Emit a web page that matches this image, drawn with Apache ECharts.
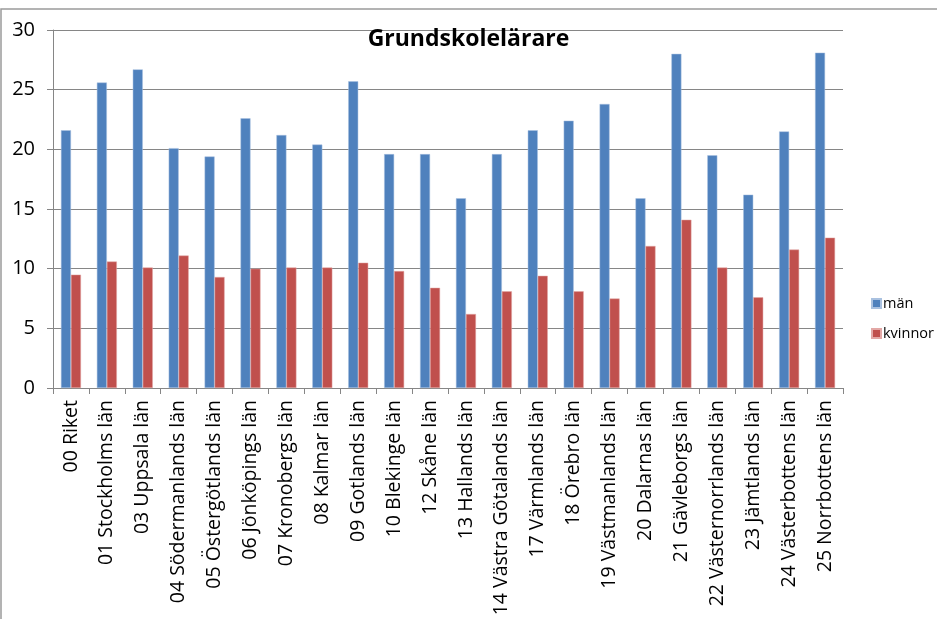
<!DOCTYPE html>
<html>
<head>
<meta charset="utf-8">
<script src="https://cdn.jsdelivr.net/npm/echarts@6/dist/echarts.min.js"></script>
<style>
  html, body { margin: 0; padding: 0; background: #fff; }
  #chart { width: 937px; height: 619px; }
</style>
</head>
<body>
<div id="chart"></div>
<script>
var categories = ['00 Riket', '01 Stockholms län', '03 Uppsala län', '04 Södermanlands län',
  '05 Östergötlands län', '06 Jönköpings län', '07 Kronobergs län', '08 Kalmar län',
  '09 Gotlands län', '10 Blekinge län', '12 Skåne län', '13 Hallands län',
  '14 Västra Götalands län', '17 Värmlands län', '18 Örebro län', '19 Västmanlands län',
  '20 Dalarnas län', '21 Gävleborgs län', '22 Västernorrlands län', '23 Jämtlands län',
  '24 Västerbottens län', '25 Norrbottens län'];
var man = [21.6, 25.6, 26.7, 20.1, 19.4, 22.6, 21.2, 20.4, 25.7, 19.6, 19.6, 15.9,
  19.6, 21.6, 22.4, 23.8, 15.9, 28.0, 19.5, 16.2, 21.5, 28.1];
var kvinnor = [9.5, 10.6, 10.1, 11.1, 9.3, 10.0, 10.1, 10.1, 10.5, 9.8, 8.4, 6.2,
  8.1, 9.4, 8.1, 7.5, 11.9, 14.1, 10.1, 7.6, 11.6, 12.6];
var yTicks = [0, 5, 10, 15, 20, 25, 30];

var myChart = echarts.init(document.getElementById('chart'));

var option = {
  animation: false,
  title: {
    text: 'Grundskolelärare',
    left: 'center',
    top: 23,
    textStyle: { fontFamily: 'Open Sans', fontWeight: 'bold', fontSize: 23, color: '#000' }
  },
  graphic: [{
    type: 'rect',
    shape: { x: 1, y: 9, width: 1000, height: 700 },
    style: { fill: 'none', stroke: '#9a9a9a', lineWidth: 1.5 },
    silent: true
  }],
  legend: {
    orient: 'vertical',
    left: 866,
    top: 291,
    itemWidth: 9,
    itemHeight: 9,
    itemGap: 15,
    icon: 'rect',
    textStyle: { fontFamily: 'Open Sans', fontSize: 14.5, color: '#000', padding: [0, 0, 0, -3] },
    data: ['män', 'kvinnor']
  },
  grid: { left: 53, right: 94, top: 30, bottom: 231, containLabel: false },
  xAxis: {
    type: 'category',
    data: categories,
    axisLine: { lineStyle: { color: '#868686' } },
    axisTick: { show: true, length: 6, lineStyle: { color: '#868686' } },
    axisLabel: {
      rotate: 90,
      interval: 0,
      margin: 12,
      fontFamily: 'Open Sans',
      fontSize: 19.5,
      color: '#000'
    }
  },
  yAxis: {
    type: 'value',
    min: yTicks[0],
    max: yTicks[yTicks.length - 1],
    interval: 5,
    axisLine: { show: true, lineStyle: { color: '#868686' } },
    axisTick: { show: true, length: 6, lineStyle: { color: '#868686' } },
    splitLine: { lineStyle: { color: '#868686' } },
    axisLabel: { fontFamily: 'Open Sans', fontSize: 20, color: '#000', margin: 18 }
  },
  series: [
    {
      name: 'män',
      type: 'bar',
      data: man,
      barWidth: 10,
      barGap: '0%',
      itemStyle: { color: '#4F81BD', borderColor: '#a9c1e0', borderWidth: 0.5 }
    },
    {
      name: 'kvinnor',
      type: 'bar',
      data: kvinnor,
      barWidth: 10,
      itemStyle: { color: '#C0504D', borderColor: '#e3a8a6', borderWidth: 0.5 }
    }
  ]
};
myChart.setOption(option);
</script>
</body>
</html>
